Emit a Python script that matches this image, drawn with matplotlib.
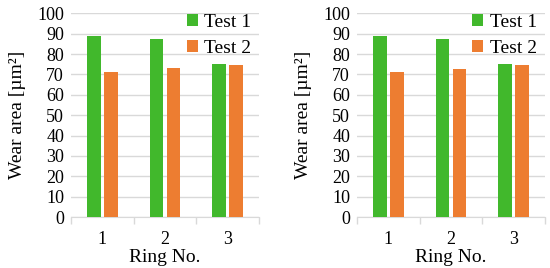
import matplotlib
matplotlib.use("Agg")
import matplotlib.pyplot as plt
import numpy as np

rings = ["1", "2", "3"]
left_test1 = [89.0, 87.5, 75.0]
left_test2 = [71.0, 73.0, 74.5]
right_test1 = [89.0, 87.5, 75.0]
right_test2 = [71.0, 72.8, 74.5]
series_names = ["Test 1", "Test 2"]
yticks = [0, 10, 20, 30, 40, 50, 60, 70, 80, 90, 100]

green = "#41B82C"
orange = "#ED7D31"
grid = "#D9D9D9"

plt.rcParams["font.family"] = ["Liberation Serif", "DejaVu Serif"]

fig = plt.figure(figsize=(5.5, 2.68), dpi=100)
W, H = 550, 268
axes_px = [(71, 259), (357, 545)]
legend_px = [(187, 14), (472, 14)]
datas = [(left_test1, left_test2), (right_test1, right_test2)]

for (x0, x1), (lx, ly), (t1, t2) in zip(axes_px, legend_px, datas):
    ax = fig.add_axes([x0 / W, (H - 217) / H, (x1 - x0) / W, (217 - 13.3) / H])
    x = np.arange(len(rings))
    w = 0.22
    off = 0.135
    ax.bar(x - off, t1, w, color=green, label=series_names[0], zorder=3)
    ax.bar(x + off, t2, w, color=orange, label=series_names[1], zorder=3)
    ax.set_xlim(-0.5, len(rings) - 0.5)
    ax.set_ylim(0, 100)
    ax.set_yticks(yticks)
    ax.set_yticklabels([str(v) for v in yticks], fontsize=13)
    ax.yaxis.grid(True, color=grid, linewidth=1, zorder=0)
    ax.set_axisbelow(True)
    ax.tick_params(axis="y", length=0, pad=5)
    ax.set_xticks(x)
    ax.set_xticklabels(rings, fontsize=13)
    ax.tick_params(axis="x", length=0, pad=10)
    ax.set_xticks(np.arange(-0.5, len(rings), 1.0), minor=True)
    ax.tick_params(axis="x", which="minor", length=5, color=grid, width=1)
    for s in ["top", "right", "left"]:
        ax.spines[s].set_visible(False)
    ax.spines["bottom"].set_color(grid)
    ax.set_ylabel("Wear area [µm²]", fontsize=14, labelpad=8)
    ax.set_xlabel("Ring No.", fontsize=14, labelpad=1)
    ax.legend(loc="upper left", frameon=False, fontsize=14,
              handlelength=0.55, handleheight=0.55, handletextpad=0.35,
              labelspacing=0.45, borderaxespad=0.0, borderpad=0.0,
              bbox_to_anchor=(lx / W, 1 - ly / H),
              bbox_transform=fig.transFigure)

fig.savefig("out.png", dpi=100)
